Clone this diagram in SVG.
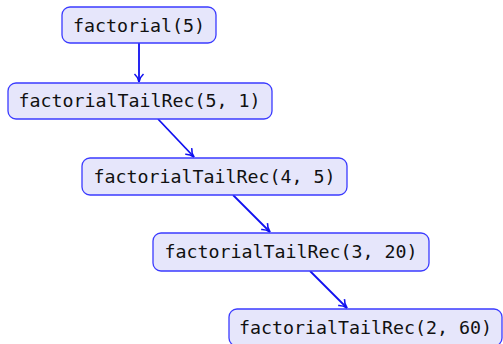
<svg xmlns="http://www.w3.org/2000/svg" width="503" height="344" viewBox="0 0 503 344">
<defs>
<style>
.box{fill:#e6e6fb;stroke:#3b3bff;stroke-width:1.3}
.lbl{font-family:"DejaVu Sans Mono","Liberation Mono",monospace;font-size:18.3px;fill:#111;text-anchor:middle}
.edge{stroke:#1010f0;stroke-width:1.8;fill:none}
</style>
<marker id="arr" markerWidth="12" markerHeight="12" refX="9" refY="5" orient="auto" markerUnits="userSpaceOnUse" viewBox="0 0 12 10">
<path d="M1,0.5 Q4,4 9,5 Q4,6 1,9.5" fill="none" stroke="#1010f0" stroke-width="1.6"/>
</marker>
</defs>
<rect width="503" height="344" fill="#fff"/>
<g id="connectors">
<line class="edge" x1="139" y1="43" x2="139" y2="82" marker-end="url(#arr)"/>
<line class="edge" x1="158" y1="119" x2="194" y2="157" marker-end="url(#arr)"/>
<line class="edge" x1="233" y1="195" x2="270" y2="232" marker-end="url(#arr)"/>
<line class="edge" x1="310" y1="271" x2="347" y2="308" marker-end="url(#arr)"/>
</g>
<g id="n1"><rect class="box" x="62" y="7" width="154" height="36" rx="8"/><text class="lbl" x="139" y="31.5">factorial(5)</text></g>
<g id="n2"><rect class="box" x="8" y="83" width="264" height="36" rx="8"/><text class="lbl" x="139.5" y="107">factorialTailRec(5, 1)</text></g>
<g id="n3"><rect class="box" x="82" y="158" width="265" height="37" rx="8"/><text class="lbl" x="214.5" y="182.5">factorialTailRec(4, 5)</text></g>
<g id="n4"><rect class="box" x="153" y="233" width="276" height="38" rx="8"/><text class="lbl" x="291" y="258">factorialTailRec(3, 20)</text></g>
<g id="n5"><rect class="box" x="229" y="309" width="273" height="37" rx="8"/><text class="lbl" x="365.5" y="334">factorialTailRec(2, 60)</text></g>
</svg>
